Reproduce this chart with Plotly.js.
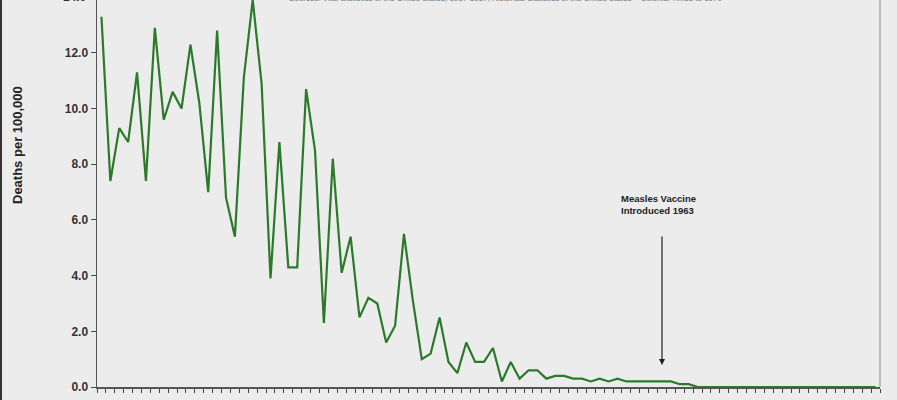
<!DOCTYPE html>
<html>
<head>
<meta charset="utf-8">
<script src="https://cdn.plot.ly/plotly-3.0.1.min.js"></script>
<style>html,body{margin:0;padding:0;background:#ececec;}#chart{width:897px;height:400px;}</style>
</head>
<body>
<div id="chart"></div>
<script>
// Years (category per year)
const years = [];
for (let y = 1900; y <= 1987; y++) years.push(y);

// Measles deaths per 100,000
const deathRate = [
  13.3, 7.4, 9.3, 8.8, 11.3, 7.4, 12.9, 9.6, 10.6, 10.0,
  12.3, 10.2, 7.0, 12.8, 6.8, 5.4, 11.1, 13.9, 10.9, 3.9,
  8.8, 4.3, 4.3, 10.7, 8.5, 2.3, 8.2, 4.1, 5.4, 2.5,
  3.2, 3.0, 1.6, 2.2, 5.5, 3.1, 1.0, 1.2, 2.5, 0.9,
  0.5, 1.6, 0.9, 0.9, 1.4, 0.2, 0.9, 0.3, 0.6, 0.6,
  0.3, 0.4, 0.4, 0.3, 0.3, 0.2, 0.3, 0.2, 0.3, 0.2,
  0.2, 0.2, 0.2, 0.2, 0.2, 0.1, 0.1, 0.0, 0.0, 0.0,
  0.0, 0.0, 0.0, 0.0, 0.0, 0.0, 0.0, 0.0, 0.0, 0.0,
  0.0, 0.0, 0.0, 0.0, 0.0, 0.0, 0.0, 0.0
];

const yTickVals = [0, 2, 4, 6, 8, 10, 12];
const yTitle = "Deaths per 100,000";
const vaccineText = "Measles Vaccine<br>Introduced 1963";
const vaccineYear = 1963;
const sourceText = "Sources: Vital Statistics of the United States, 1937-1987; Historical Statistics of the United States \u2013 Colonial Times to 1970";

const trace = {
  x: years,
  y: deathRate,
  type: 'scatter',
  mode: 'lines',
  line: {color: '#2a7a2a', width: 2.2},
  hoverinfo: 'skip'
};

const W = 897, L = 97, R = 17, B = 13;
const plotW = W - L - R, plotH = 400 - B;
const px = (p) => (p - L) / plotW;       // page x pixel -> paper x
const py = (p) => (plotH - p) / plotH;   // page y pixel -> paper y

const layout = {
  width: 897, height: 400,
  margin: {l: L, r: R, t: 0, b: B},
  paper_bgcolor: '#ececec',
  plot_bgcolor: '#ececec',
  showlegend: false,
  font: {family: 'Liberation Sans, Arial, sans-serif', color: '#333'},
  xaxis: {
    range: [1899.5, 1987.5],
    tick0: 1899.5, dtick: 1, tickmode: 'linear',
    ticks: 'outside', ticklen: 4, tickwidth: 1, tickcolor: '#444',
    showticklabels: false,
    showline: true, linecolor: '#555', linewidth: 1.5,
    showgrid: false, zeroline: false
  },
  yaxis: {
    range: [0, 13.9],
    tickmode: 'array', tickvals: yTickVals,
    tickformat: '.1f',
    ticks: 'outside', ticklen: 5, tickwidth: 1, tickcolor: '#444',
    tickfont: {size: 12, color: '#333', family: 'Liberation Sans, Arial, sans-serif', weight: 'bold'},
    showline: true, linecolor: '#555', linewidth: 1.5,
    showgrid: false, zeroline: false
  },
  shapes: [
    {type: 'line', xref: 'paper', yref: 'paper', x0: px(1), x1: px(1), y0: py(400), y1: 1.01,
     line: {color: '#333', width: 2}},
    {type: 'line', xref: 'paper', yref: 'paper', x0: 1, x1: 1, y0: 0, y1: 1.01,
     line: {color: '#8a8a8a', width: 1}}
  ],
  annotations: [
    {xref: 'paper', yref: 'paper', x: px(18), y: py(145), text: yTitle, textangle: -90,
     showarrow: false, xanchor: 'center', yanchor: 'middle',
     font: {size: 13, color: '#222', weight: 'bold'}},
    {xref: 'paper', yref: 'paper', x: px(89), y: 14 / 13.9, text: '14.0',
     showarrow: false, xanchor: 'right', yanchor: 'middle',
     font: {size: 12, color: '#333', weight: 'bold'}},
    {xref: 'paper', yref: 'paper', x: px(506), y: py(-1), text: sourceText,
     showarrow: false, xanchor: 'center', yanchor: 'middle',
     font: {size: 8, color: '#777'}},
    {xref: 'x', yref: 'y', x: 1958.2, y: 6.54, text: vaccineText, align: 'left',
     showarrow: false, xanchor: 'left', yanchor: 'middle',
     font: {size: 9.5, color: '#222', weight: 'bold'}},
    {xref: 'x', yref: 'y', x: vaccineYear, y: 0.79, axref: 'x', ayref: 'y',
     ax: vaccineYear, ay: 5.46, text: '', showarrow: true,
     arrowhead: 2, arrowsize: 1, arrowwidth: 1.2, arrowcolor: '#222'}
  ]
};

Plotly.newPlot('chart', [trace], layout, {staticPlot: true, displayModeBar: false});
</script>
</body>
</html>
